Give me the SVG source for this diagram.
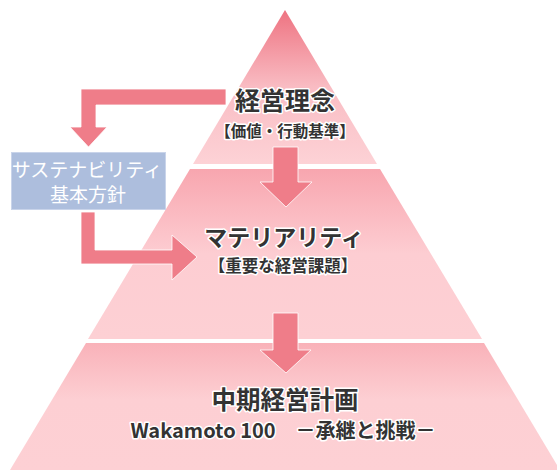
<svg xmlns="http://www.w3.org/2000/svg" width="557" height="470" viewBox="0 0 557 470">
<defs>
<linearGradient id="g1" x1="0" y1="10" x2="0" y2="164" gradientUnits="userSpaceOnUse">
<stop offset="0" stop-color="#ee7381"/>
<stop offset="0.5" stop-color="#f9bcc3"/>
<stop offset="1" stop-color="#fdd2d6"/>
</linearGradient>
<linearGradient id="g2" x1="0" y1="169" x2="0" y2="339" gradientUnits="userSpaceOnUse">
<stop offset="0" stop-color="#f8a6af"/>
<stop offset="0.5" stop-color="#fdcdd2"/>
<stop offset="1" stop-color="#fdd0d4"/>
</linearGradient>
<linearGradient id="g3" x1="0" y1="343" x2="0" y2="470" gradientUnits="userSpaceOnUse">
<stop offset="0" stop-color="#f9b2b9"/>
<stop offset="0.45" stop-color="#fdcfd3"/>
<stop offset="1" stop-color="#fdd0d4"/>
</linearGradient>
<style>
.arrow{fill:#ef7d89;stroke:#ffffff;stroke-width:1;stroke-opacity:0.8}
.t{font-family:"Noto Sans CJK JP","Noto Sans",sans-serif;font-weight:700;fill:#333333;stroke:#ffffff;stroke-width:3;stroke-linejoin:round;paint-order:stroke;text-anchor:middle}
.b{font-family:"Noto Sans CJK JP","Noto Sans",sans-serif;font-weight:400;fill:#ffffff;text-anchor:middle;font-size:19px}
</style>
</defs>
<g id="tier1"><polygon points="285,10 377,164 193,164" fill="url(#g1)"/></g>
<g id="tier2"><polygon points="190,169 380,169 482,339 88,339" fill="url(#g2)"/></g>
<g id="tier3"><polygon points="86,343 484,343 560,470 10,470" fill="url(#g3)"/></g>
<g id="connectors">
<path class="arrow" d="M273,147 L298,147 L298,182 L312,182 L286,207 L260,182 L273,182 Z"/>
<path class="arrow" d="M273,313 L298,313 L298,350 L311,350 L286,373 L260,350 L273,350 Z"/>
<path class="arrow" d="M226,89 L81,89 L81,127 L70,127 L88.5,147 L107,127 L96,127 L96,105 L226,105 Z"/>
<path class="arrow" d="M81,212 L95,212 L95,250 L172,250 L172,235 L197,257 L172,280 L172,264 L81,264 Z"/>
</g>
<g id="box">
<rect x="11.5" y="152.5" width="154" height="57" fill="#adbedd" stroke="#c9d4ea" stroke-width="1"/>
<text class="b" x="87" y="177" font-size="18.5">サステナビリティ</text>
<text class="b" x="88" y="202">基本方針</text>
</g>
<g id="label1">
<text class="t" x="285" y="110" font-size="25">経営理念</text>
<text class="t" x="285" y="137" font-size="15.5">【価値・行動基準】</text>
</g>
<g id="label2">
<text class="t" x="284" y="246" font-size="23">マテリアリティ</text>
<text class="t" x="283" y="272" font-size="16.5">【重要な経営課題】</text>
</g>
<g id="label3">
<text class="t" x="285" y="409" font-size="24.5">中期経営計画</text>
<text class="t" x="283" y="438" font-size="20">Wakamoto 100　－承継と挑戦－</text>
</g>
</svg>
